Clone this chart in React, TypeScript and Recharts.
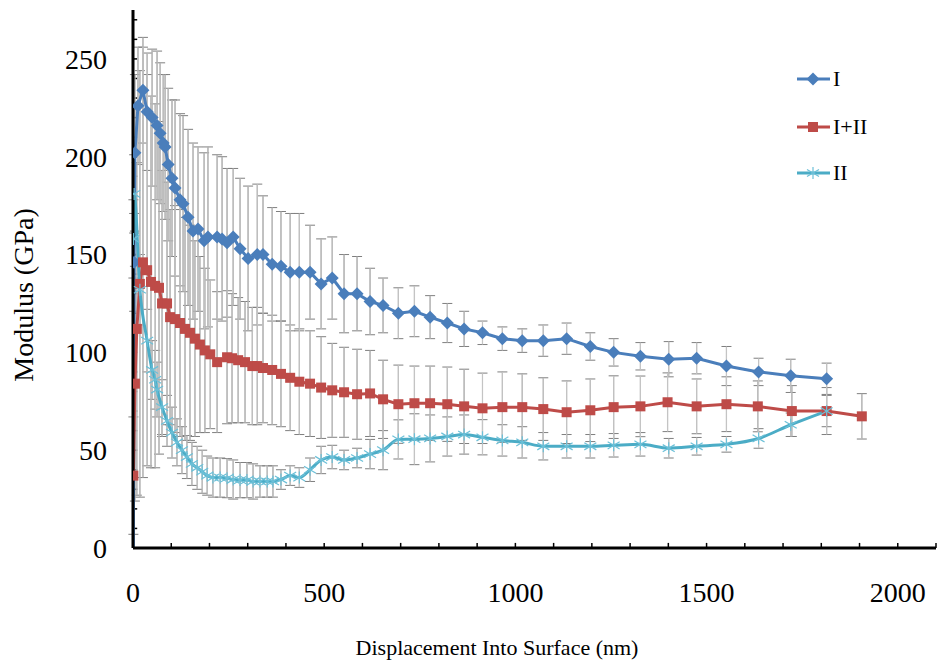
import { ComposedChart, Line, XAxis, YAxis, ErrorBar, ReferenceLine } from 'recharts';

// Series I
const depthI = [1, 3, 5, 13, 26, 37, 50, 63, 71, 79, 84, 92, 102, 110, 123, 131, 144, 157, 170, 186, 196, 220, 233, 246, 262, 280, 301, 325, 340, 364, 387, 411, 435, 463, 492, 521, 552, 586, 620, 654, 694, 736, 777, 822, 866, 914, 966, 1018, 1073, 1134, 1196, 1257, 1327, 1401, 1474, 1552, 1636, 1720, 1814];
const modulusI = [0, 146, 202, 226, 234, 223, 220, 216, 212, 207, 205, 196, 189, 184, 178, 176, 169, 162, 163, 157, 159, 159, 158, 156, 159, 153, 148, 150, 150, 145, 144, 141, 141, 141, 135, 138, 130, 130, 126, 124, 120, 121, 118, 115, 112, 110, 107, 106, 106, 107, 103, 100, 98, 96.5, 97, 93, 90, 88, 86.5];
const errI = [0, 25, 40, 30, 27, 30, 35, 38, 36, 35, 37, 39, 40, 45, 44, 45, 45, 45, 42, 45, 46, 42, 42, 38, 35, 36, 37, 36, 30, 29, 28, 30, 30, 24, 23, 21, 20, 19, 17, 14, 13, 13, 11, 10, 9, 6, 6, 6, 8, 8, 7, 7, 7, 9, 8, 10, 7, 8.5, 8];

// Series I+II
const depthI2 = [1, 5, 10, 18, 26, 37, 47, 58, 68, 76, 89, 97, 110, 123, 136, 149, 162, 175, 188, 202, 220, 246, 259, 275, 293, 312, 325, 340, 364, 387, 411, 435, 463, 492, 521, 552, 586, 620, 654, 694, 736, 777, 822, 866, 914, 966, 1018, 1073, 1134, 1196, 1257, 1327, 1398, 1474, 1552, 1634, 1723, 1814, 1906];
const modulusI2 = [37, 84, 112, 135, 146, 142, 136, 134, 133, 125, 125, 118, 117, 115, 112, 110, 107, 104, 101, 99, 95, 97.5, 97, 96, 95, 93, 93, 92, 91, 89, 87, 85, 84, 82, 80.6, 79.6, 78.6, 79, 76, 73.5, 74, 74, 73.5, 72.4, 71.4, 72, 72, 71, 69.4, 70.4, 72, 72.4, 74.5, 72.4, 73.5, 72.4, 70, 70, 67.3];
const errI2 = [30, 60, 85, 109, 110, 100, 95, 93, 85, 68, 62, 55, 58, 58, 57, 55, 50, 45, 42, 38, 36, 34, 33, 32, 31, 30, 30, 28, 28, 27, 27, 27, 27, 26, 24, 23, 23, 22, 20, 20, 19, 19, 19, 19, 18, 18, 17, 16, 16, 16, 16, 15.5, 15, 14, 14, 13, 13, 12, 11.6];

// Series II
const depthII = [1, 3, 18, 37, 50, 58, 63, 76, 89, 102, 115, 128, 141, 154, 168, 181, 194, 209, 228, 246, 262, 280, 298, 314, 332, 351, 366, 387, 411, 435, 463, 492, 521, 552, 586, 620, 654, 694, 736, 777, 822, 866, 914, 966, 1018, 1073, 1134, 1196, 1257, 1327, 1401, 1474, 1552, 1636, 1720, 1814];
const modulusII = [158, 181, 132, 106, 91, 86, 81, 72, 65, 59, 54, 50, 46.5, 43, 41, 39, 37, 36, 36, 35.7, 35, 34.7, 34.7, 34, 34, 34, 34, 35, 37, 36, 40, 45, 46.5, 45, 46, 48, 50, 55.5, 55.6, 56, 57, 58, 56.6, 55, 54, 52, 52, 52, 52.5, 53, 51, 52, 53, 56, 63, 70];
const errII = [20, 20, 18, 16, 15, 15, 14, 14, 13, 13, 12, 12, 11, 11, 11, 11, 10, 10, 10, 10, 10, 9, 9, 9, 8, 8, 8, 5, 5, 5, 6, 7, 6, 5, 5, 7.5, 10, 10, 13, 12, 10, 10, 9, 8, 8, 7, 6, 6, 6, 6, 5, 4.5, 4, 5, 6, 8];

const xTicks = [0, 500, 1000, 1500, 2000];
const xMinorTicks = [100, 200, 300, 400, 500, 600, 700, 800, 900, 1000, 1100, 1200, 1300, 1400, 1500, 1600, 1700, 1800, 1900, 2000, 2100];
const yTicks = [0, 50, 100, 150, 200, 250];
const yMinorTicks = [10, 20, 30, 40, 50, 60, 70, 80, 90, 100, 110, 120, 130, 140, 150, 160, 170, 180, 190, 200, 210, 220, 230, 240, 250, 260, 270];

const BLUE = '#4a7ebb';
const RED = '#be4b48';
const CYAN = '#4bacc6';
const STAR = '#6cc0d8';
const FONT = "'Liberation Serif', 'Times New Roman', serif";

const toRows = (xs: number[], ys: number[], es: number[]) =>
  xs.map((x, i) => ({ x, y: ys[i], err: es[i] }));

const rowsI = toRows(depthI, modulusI, errI);
const rowsI2 = toRows(depthI2, modulusI2, errI2);
const rowsII = toRows(depthII, modulusII, errII);

const Diamond = ({ cx, cy, s = 6.5 }: any) => (
  <path d={`M${cx},${cy - s}L${cx + s},${cy}L${cx},${cy + s}L${cx - s},${cy}Z`} fill={BLUE} />
);
const Square = ({ cx, cy, s = 5 }: any) => (
  <rect x={cx - s} y={cy - s} width={s * 2} height={s * 2} fill={RED} />
);
const Star = ({ cx, cy, s = 6 }: any) => (
  <g stroke={STAR} strokeWidth={1.2}>
    <line x1={cx} y1={cy - s} x2={cx} y2={cy + s} />
    <line x1={cx - s} y1={cy - s * 0.6} x2={cx + s} y2={cy + s * 0.6} />
    <line x1={cx - s} y1={cy + s * 0.6} x2={cx + s} y2={cy - s * 0.6} />
  </g>
);

const diamondDot = (p: any) =>
  p.payload && p.payload.y === 0 ? <g key={`di-${p.index}`} /> : <Diamond key={`di-${p.index}`} cx={p.cx} cy={p.cy} />;
const squareDot = (p: any) => <Square key={`sq-${p.index}`} cx={p.cx} cy={p.cy} />;
const starDot = (p: any) => <Star key={`st-${p.index}`} cx={p.cx} cy={p.cy} />;

const seriesList = [
  { name: 'I', rows: rowsI },
  { name: 'I+II', rows: rowsI2 },
  { name: 'II', rows: rowsII },
];

const legendItems = [
  { name: 'I', color: BLUE, Marker: Diamond, top: 79 },
  { name: 'I+II', color: RED, Marker: Square, top: 127 },
  { name: 'II', color: CYAN, Marker: Star, top: 173 },
];

export default function App() {
  return (
    <div style={{ position: 'absolute', left: 0, top: 0, width: 938, height: 667, background: '#fff', fontFamily: FONT }}>
      <ComposedChart width={938} height={667} margin={{ top: 10, right: 2, bottom: 0, left: 0 }}>
        <XAxis dataKey="x" type="number" domain={[0, 2100]} ticks={xTicks} height={119}
          axisLine={{ stroke: '#000', strokeWidth: 3 }} tickLine={false} tickSize={0} tickMargin={34}
          tick={{ fontSize: 28, fill: '#000', fontFamily: FONT }} allowDataOverflow />
        <XAxis xAxisId="top" orientation="top" dataKey="x" type="number" domain={[0, 2100]} height={0}
          axisLine={{ stroke: '#000', strokeWidth: 3 }} tick={false} tickLine={false} allowDataOverflow />
        <YAxis type="number" domain={[0, 275]} ticks={yTicks} width={133}
          axisLine={{ stroke: '#000', strokeWidth: 3 }} tickLine={false} tickSize={0} tickMargin={26}
          tick={{ fontSize: 28, fill: '#000', fontFamily: FONT }} allowDataOverflow />

        {/* small inward ticks on both axes */}
        {xMinorTicks.map((v) => (
          <ReferenceLine key={`xt-${v}`} segment={[{ x: v, y: 0 }, { x: v, y: 2.6 }]} stroke="#000" strokeWidth={1.5} ifOverflow="visible" />
        ))}
        {yMinorTicks.map((v) => (
          <ReferenceLine key={`yt-${v}`} segment={[{ x: 0, y: v }, { x: 11, y: v }]} stroke="#000" strokeWidth={1.5} ifOverflow="visible" />
        ))}

        {seriesList.map((s) => (
          <Line key={`cap-${s.name}`} data={s.rows} dataKey="y" stroke="none" dot={false} activeDot={false}
            legendType="none" isAnimationActive={false}>
            <ErrorBar dataKey="err" direction="y" width={5} stroke="#7f7f7f" strokeWidth={1} />
          </Line>
        ))}
        {seriesList.map((s) => (
          <Line key={`bar-${s.name}`} data={s.rows} dataKey="y" stroke="none" dot={false} activeDot={false}
            legendType="none" isAnimationActive={false}>
            <ErrorBar dataKey="err" direction="y" width={0} stroke="#c4c4c4" strokeWidth={1.2} />
          </Line>
        ))}

        <Line data={rowsI} dataKey="y" name="I" type="linear" stroke={BLUE} strokeWidth={3}
          dot={diamondDot} activeDot={false} isAnimationActive={false} />
        <Line data={rowsI2} dataKey="y" name="I+II" type="linear" stroke={RED} strokeWidth={3}
          dot={squareDot} activeDot={false} isAnimationActive={false} />
        <Line data={rowsII} dataKey="y" name="II" type="monotone" stroke={CYAN} strokeWidth={3}
          dot={starDot} activeDot={false} isAnimationActive={false} />
      </ComposedChart>

      {legendItems.map(({ name, color, Marker, top }) => (
        <div key={name} style={{ position: 'absolute', left: 796, top: top - 12, height: 24, display: 'flex', alignItems: 'center' }}>
          <svg width={36} height={24}>
            <line x1={1} y1={12} x2={34} y2={12} stroke={color} strokeWidth={3} />
            <Marker cx={17} cy={12} />
          </svg>
          <span style={{ fontSize: 22, color: '#000', marginLeft: 1, lineHeight: '24px' }}>{name}</span>
        </div>
      ))}

      <div style={{ position: 'absolute', left: 24, top: 295, transform: 'translate(-50%, -50%) rotate(-90deg)', whiteSpace: 'nowrap', fontSize: 28, color: '#000' }}>
        Modulus (GPa)
      </div>
      <div style={{ position: 'absolute', left: 497, top: 648, transform: 'translate(-50%, -50%)', whiteSpace: 'nowrap', fontSize: 22, color: '#000' }}>
        Displacement Into Surface (nm)
      </div>
    </div>
  );
}
